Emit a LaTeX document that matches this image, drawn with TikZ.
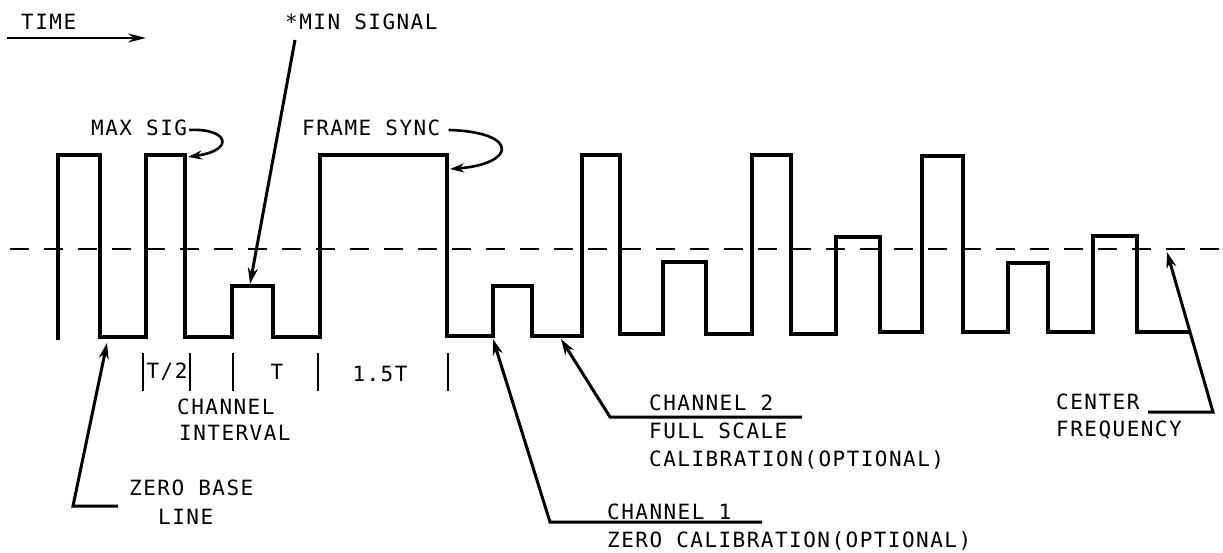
\documentclass[tikz,border=0pt]{standalone}
\usepackage{fontspec}
\newfontfamily\lblfont[LetterSpace=7]{DejaVu Sans Mono}
\usetikzlibrary{arrows.meta}
\begin{document}
\begin{tikzpicture}[x=1pt,y=-1pt,
  lbl/.style={font=\lblfont\fontsize{21}{25}\selectfont, inner sep=0pt, anchor=west},
  clbl/.style={font=\lblfont\fontsize{21}{25}\selectfont, inner sep=0pt},
  wave/.style={line width=3.6pt, line join=miter, line cap=rect},
  leader/.style={line width=3pt, line join=miter, -{Stealth[length=16pt,width=10pt]}},
  curvearrow/.style={line width=2.6pt, -{Stealth[length=14pt,width=9pt]}},
  tickmark/.style={line width=2pt},
  centerline/.style={line width=2.2pt, dash pattern=on 19pt off 15pt}]
\useasboundingbox (0,0) rectangle (1223,553);

% center frequency line
\coordinate (clA) at (10,249);
\coordinate (clB) at (1223,249);
\draw[centerline] (clA) -- (clB);

% waveform
\draw[wave] (58,338) -- (58,155) -- (100,155) -- (100,337) -- (146,337) -- (146,155)
  -- (185,155) -- (185,337) -- (232,337) -- (232,286) -- (273,286) -- (273,337)
  -- (320,337) -- (320,155) -- (447,155) -- (447,336) -- (493,336) -- (493,286)
  -- (532,286) -- (532,336) -- (582,336) -- (582,155) -- (620,155) -- (620,334)
  -- (663,334) -- (663,262) -- (706,262) -- (706,334) -- (752,334) -- (752,155)
  -- (791,155) -- (791,334) -- (836,334) -- (836,237) -- (880,237) -- (880,332)
  -- (922,332) -- (922,156) -- (963,156) -- (963,332) -- (1008,332) -- (1008,263)
  -- (1048,263) -- (1048,332) -- (1093,332) -- (1093,236) -- (1137,236) -- (1137,332)
  -- (1187,332);

% TIME
\node[lbl] (time) at (21,22) {TIME};
\coordinate (timeA) at (7,38);
\coordinate (timeB) at (146,38);
\draw[line width=2.6pt, -{Stealth[length=18pt,width=9pt]}] (timeA) -- (timeB);

% MIN SIGNAL
\node[lbl] (minsig) at (285,22) {*MIN SIGNAL};
\coordinate (minA) at (295,40);
\coordinate (minTip) at (250,284);
\draw[leader] (minA) -- (minTip);

% MAX SIG
\node[lbl] (maxsig) at (91,128) {MAX SIG};
\coordinate (maxTip) at (188,157);
\draw[curvearrow] (maxsig.east) ++(2,2)
  .. controls (228,128) and (236,150) .. (maxTip);

% FRAME SYNC
\node[lbl] (fsync) at (302,128) {FRAME SYNC};
\coordinate (fsTip) at (450,169);
\draw[curvearrow] (fsync.east) ++(8,2)
  .. controls (520,132) and (516,164) .. (fsTip);

% tick marks
\foreach \x/\n in {143/t1,190/t2,233/t3,318/t4,448/t5}{
  \coordinate (\n a) at (\x,353);
  \coordinate (\n b) at (\x,391);
  \draw[tickmark] (\n a) -- (\n b);
}
\node[clbl] (thalf) at (167,372) {T/2};
\node[clbl] (tone) at (277,372) {T};
\node[clbl] (tonehalf) at (380,374) {1.5T};

% channel interval
\node[lbl] (chint1) at (177,407) {CHANNEL};
\node[lbl] (chint2) at (179,433) {INTERVAL};

% zero base line
\node[lbl] (zb1) at (129,488) {ZERO BASE};
\node[lbl] (zb2) at (158,517) {LINE};
\coordinate (zbA) at (118,506);
\coordinate (zbB) at (73,506);
\coordinate (zbTip) at (107,343);
\draw[leader] (zbA) -- (zbB) -- (zbTip);

% channel 2
\node[lbl] (ch2a) at (649,403) {CHANNEL 2};
\node[lbl] (ch2b) at (649,431) {FULL SCALE};
\node[lbl] (ch2c) at (649,460) {CALIBRATION(OPTIONAL)};
\coordinate (ch2A) at (802,417);
\coordinate (ch2B) at (610,417);
\coordinate (ch2Tip) at (561,339);
\draw[leader] (ch2A) -- (ch2B) -- (ch2Tip);

% channel 1
\node[lbl] (ch1a) at (607,512) {CHANNEL 1};
\node[lbl] (ch1b) at (607,541) {ZERO CALIBRATION(OPTIONAL)};
\coordinate (ch1A) at (762,522);
\coordinate (ch1B) at (550,522);
\coordinate (ch1Tip) at (493,339);
\draw[leader] (ch1A) -- (ch1B) -- (ch1Tip);

% center frequency
\node[lbl] (cf1) at (1056,402) {CENTER};
\node[lbl] (cf2) at (1056,430) {FREQUENCY};
\coordinate (cfA) at (1148,412);
\coordinate (cfB) at (1213,412);
\coordinate (cfTip) at (1167,252);
\draw[leader] (cfA) -- (cfB) -- (cfTip);
\end{tikzpicture}
\end{document}
